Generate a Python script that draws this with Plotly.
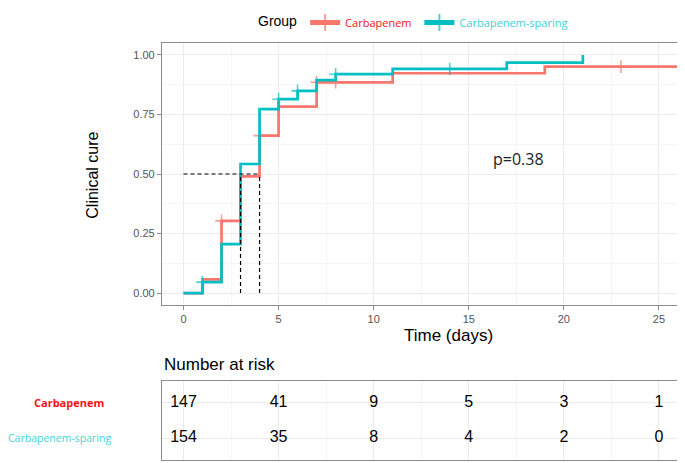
import plotly.graph_objects as go

# ---------------- data ----------------
groups = ["Carbapenem", "Carbapenem-sparing"]
line_colors = ["#F8766D", "#00BFC4"]
label_colors = ["#F01414", "#3FD0D6"]

# cumulative clinical cure (1 - KM) step functions
carb_times = [0, 1, 2, 3, 4, 5, 7, 11, 19, 27]
carb_cure = [0, 0.058, 0.303, 0.49, 0.661, 0.783, 0.885, 0.923, 0.951, 0.951]
carb_censor_times = [2, 4, 7, 8, 23]

spar_times = [0, 1, 2, 3, 4, 5, 6, 7, 8, 11, 17, 21]
spar_cure = [0, 0.046, 0.206, 0.542, 0.772, 0.814, 0.849, 0.894, 0.919, 0.941, 0.968, 1.0]
spar_censor_times = [1, 5, 6, 8, 14]

median_times = [3, 4]
median_level = 0.5

risk_times = [0, 5, 10, 15, 20, 25]
risk_carb = [147, 41, 9, 5, 3, 1]
risk_spar = [154, 35, 8, 4, 2, 0]

p_text = "p=0.38"
y_ticks = [0, 0.25, 0.5, 0.75, 1.0]
y_ticktext = ["0.00", "0.25", "0.50", "0.75", "1.00"]
x_ticks = [0, 5, 10, 15, 20, 25]

# ---------------- helpers ----------------
OFF = 8  # page body margin
W, H = 685 - OFF, 463 - OFF


def px(xp):
    return (xp - OFF) / W


def py(yp):
    return 1 - (yp - OFF) / H


def step_value(times, cure, t):
    v = cure[0]
    for ti, ci in zip(times, cure):
        if ti <= t:
            v = ci
    return v


def merged(times, cure, censors):
    pts = [(t, c, 0) for t, c in zip(times, cure)]
    pts += [(t, step_value(times, cure, t), 1) for t in censors]
    pts.sort(key=lambda p: (p[0], p[2]))
    xs = [p[0] for p in pts]
    ys = [p[1] for p in pts]
    sz = [9 if p[2] else 0 for p in pts]
    return xs, ys, sz


fig = go.Figure()

series = [
    (carb_times, carb_cure, carb_censor_times),
    (spar_times, spar_cure, spar_censor_times),
]
name_pad = ["\u00a0", ""]
for i, (t, c, cs) in enumerate(series):
    xs, ys, sz = merged(t, c, cs)
    fig.add_trace(go.Scatter(
        x=xs, y=ys, mode="lines+markers",
        line=dict(color=line_colors[i], width=2.7, shape="hv"),
        marker=dict(symbol="cross-thin", size=sz, color=line_colors[i],
                    line=dict(color=line_colors[i], width=1.6)),
        name='<span style="color:%s">%s</span>%s' % (label_colors[i], groups[i], name_pad[i]),
        xaxis="x", yaxis="y", hoverinfo="skip",
    ))

# median lines
dash_style = dict(color="black", width=1.2, dash="4px,3px")
fig.add_trace(go.Scatter(x=[0, max(median_times)], y=[median_level, median_level],
                         mode="lines", line=dash_style, showlegend=False,
                         xaxis="x", yaxis="y", hoverinfo="skip"))
for mt in median_times:
    fig.add_trace(go.Scatter(x=[mt, mt], y=[0, median_level], mode="lines",
                             line=dash_style, showlegend=False,
                             xaxis="x", yaxis="y", hoverinfo="skip"))

# risk table
for row_y, vals in [(2, risk_carb), (1, risk_spar)]:
    fig.add_trace(go.Scatter(
        x=risk_times, y=[row_y] * len(risk_times), mode="text",
        text=[str(v) for v in vals],
        textfont=dict(family="Liberation Sans", size=16, color="black"),
        showlegend=False, xaxis="x2", yaxis="y2", hoverinfo="skip",
    ))

xrange_ = [-1.13, 26.24]
grid_major = "#EBEBEB"
grid_minor = "#F5F5F5"
border = "#8C8C8C"
tickfont = dict(family="Liberation Sans", size=11, color="#555555")

fig.update_layout(
    width=W, height=H,
    margin=dict(l=0, r=0, t=0, b=0),
    paper_bgcolor="white", plot_bgcolor="white",
    xaxis=dict(domain=[px(162), px(682.5)], range=xrange_, anchor="y",
               tickvals=x_ticks, ticks="outside", ticklen=4, tickcolor=border,
               tickfont=tickfont, showgrid=True, gridcolor=grid_major, gridwidth=1,
               minor=dict(dtick=2.5, tick0=0, showgrid=True, gridcolor=grid_minor, gridwidth=0.8),
               showline=True, linecolor=border, linewidth=1.2, mirror=True, zeroline=False),
    yaxis=dict(domain=[py(305), py(43)], range=[-0.05, 1.05], anchor="x",
               tickvals=y_ticks, ticktext=y_ticktext, ticks="outside", ticklen=4,
               tickcolor=border, tickfont=tickfont, showgrid=True, gridcolor=grid_major,
               gridwidth=1,
               minor=dict(dtick=0.125, tick0=0, showgrid=True, gridcolor=grid_minor, gridwidth=0.8),
               showline=True, linecolor=border, linewidth=1.2, mirror=True, zeroline=False),
    xaxis2=dict(domain=[px(162), px(682.5)], range=xrange_, anchor="y2",
                tickvals=x_ticks, showticklabels=False, ticks="",
                showgrid=True, gridcolor=grid_major, gridwidth=1,
                minor=dict(dtick=2.5, tick0=0, showgrid=True, gridcolor=grid_minor, gridwidth=0.8),
                showline=True, linecolor=border, linewidth=1.2, mirror=True, zeroline=False),
    yaxis2=dict(domain=[py(460), py(381)], range=[0.38, 2.62], anchor="x2",
                tickvals=[1, 2], showticklabels=False, ticks="",
                showgrid=True, gridcolor=grid_major, gridwidth=1,
                showline=True, linecolor=border, linewidth=1.2, mirror=True, zeroline=False),
    legend=dict(orientation="h", x=px(256), y=1.0, xanchor="left", yanchor="top",
                title=dict(text="Group", side="left",
                           font=dict(family="Liberation Sans", size=14, color="black")),
                font=dict(family="Open Sans", size=11),
                itemsizing="constant", bgcolor="rgba(0,0,0,0)"),
    annotations=[
        dict(text="Clinical cure", x=px(91.7), y=py(175), xref="paper", yref="paper",
             textangle=-90, showarrow=False, xanchor="center", yanchor="middle",
             font=dict(family="Liberation Sans", size=16, color="black")),
        dict(text="Time (days)", x=px(448), y=py(335), xref="paper", yref="paper",
             showarrow=False, xanchor="center", yanchor="middle",
             font=dict(family="Liberation Sans", size=17, color="black")),
        dict(text=p_text, x=17.6, y=0.563, xref="x", yref="y", showarrow=False,
             xanchor="center", yanchor="middle",
             font=dict(family="Open Sans", size=16, color="#222222")),
        dict(text="Number at risk", x=px(162), y=py(364), xref="paper", yref="paper",
             showarrow=False, xanchor="left", yanchor="middle",
             font=dict(family="Liberation Sans", size=17, color="black")),
        dict(text="<b>" + groups[0] + "</b>", x=px(68.5), y=2, xref="paper", yref="y2",
             showarrow=False, xanchor="center", yanchor="middle",
             font=dict(family="Open Sans", size=11, color="#FF1010")),
        dict(text=groups[1], x=px(113), y=1, xref="paper", yref="y2",
             showarrow=False, xanchor="right", yanchor="middle",
             font=dict(family="Open Sans", size=10.5, color="#3FD3DA")),
    ],
)

fig.write_html("out.html")
